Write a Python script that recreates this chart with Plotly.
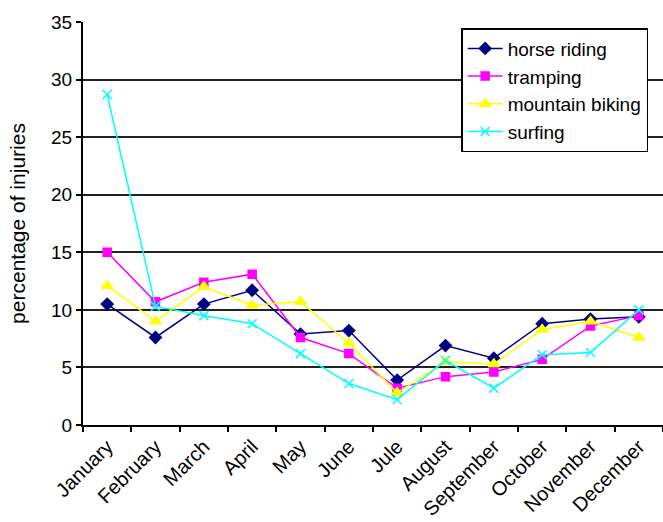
import plotly.graph_objects as go

months = ["January", "February", "March", "April", "May", "June", "Jule",
          "August", "September", "October", "November", "December"]

horse_riding = [10.5, 7.6, 10.5, 11.7, 7.9, 8.2, 3.9, 6.9, 5.8, 8.8, 9.2, 9.4]
tramping = [15.0, 10.7, 12.4, 13.1, 7.6, 6.2, 3.2, 4.2, 4.6, 5.7, 8.6, 9.5]
mountain_biking = [12.1, 9.0, 12.0, 10.4, 10.7, 7.1, 2.8, 5.5, 5.3, 8.3, 9.0, 7.6]
surfing = [28.7, 10.3, 9.5, 8.8, 6.2, 3.6, 2.2, 5.6, 3.2, 6.1, 6.3, 10.0]

y_ticks = [0, 5, 10, 15, 20, 25, 30, 35]

series = [
    ("horse riding", horse_riding, "#000080", "diamond", 9),
    ("tramping", tramping, "#FF00FF", "square", 8),
    ("mountain biking", mountain_biking, "#FFFF00", "triangle-up", 10),
    ("surfing", surfing, "#00FFFF", "x-thin-open", 9),
]

fig = go.Figure()
for name, vals, color, symbol, size in series:
    fig.add_trace(go.Scatter(
        x=months, y=vals, name=name, mode="lines+markers",
        line=dict(color=color, width=1.5),
        marker=dict(symbol=symbol, size=size, color=color,
                    line=dict(color=color, width=1.5)),
    ))

font_family = "Arial, Liberation Sans, sans-serif"

fig.update_layout(
    template="none",
    width=663, height=522,
    margin=dict(l=83, r=0, t=22, b=97),
    paper_bgcolor="white", plot_bgcolor="white",
    font=dict(family=font_family, size=19, color="black"),
    showlegend=True,
    legend=dict(
        x=0.652, y=0.985, xanchor="left", yanchor="top",
        bgcolor="white", bordercolor="black", borderwidth=1.5,
        font=dict(size=19, family=font_family),
        tracegroupgap=0, itemwidth=35,
    ),
    xaxis=dict(
        type="category", range=[-0.5, 11.5],
        tickangle=-45, tickson="boundaries",
        ticks="outside", ticklen=5, tickcolor="black", tickwidth=1.5,
        showline=True, linecolor="black", linewidth=2,
        showgrid=False, tickfont=dict(size=20), automargin=False,
    ),
    yaxis=dict(
        range=[0, 35], tickvals=y_ticks,
        ticks="outside", ticklen=5, tickcolor="black", tickwidth=1.5,
        showline=True, linecolor="black", linewidth=2,
        showgrid=True, gridcolor="#222222", gridwidth=1.5,
        zeroline=False, automargin=False,
        title=dict(text="percentage of injuries", font=dict(size=21), standoff=20),
        tickfont=dict(size=19),
    ),
)

fig.write_html("out.html")
